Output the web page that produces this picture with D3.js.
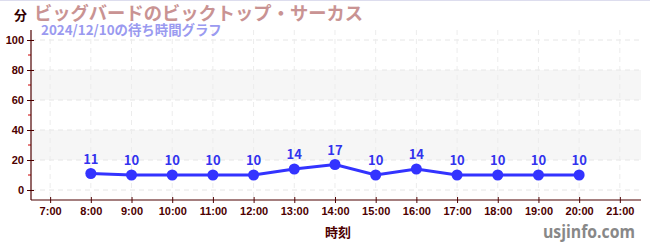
<!DOCTYPE html>
<html><head><meta charset="utf-8">
<script src="https://cdn.jsdelivr.net/npm/d3@7"></script>
<style>body{margin:0;background:#fff}svg{display:block;font-family:"Noto Sans CJK JP","Noto Sans",sans-serif}</style>
</head><body><svg id="c" width="650" height="250"></svg>
<script>
const hours = [8,9,10,11,12,13,14,15,16,17,18,19,20];
const waits = [11,10,10,10,10,14,17,10,14,10,10,10,10];
const xTickHours = [7,8,9,10,11,12,13,14,15,16,17,18,19,20,21];
const yTicks = [0,20,40,60,80,100];
const yMinor = [10,30,50,70,90];
const bands = [[60,80],[20,40]];
const title = "ビッグバードのビックトップ・サーカス";
const subtitle = "2024/12/10の待ち時間グラフ";
const yUnit = "分";
const xLabel = "時刻";
const credit = "usjinfo.com";

const svg = d3.select("#c");
const L=31,R=641,T=30,B=200;
const x = d3.scaleLinear().domain([6.53,21.52]).range([L,R]);
const y = d3.scaleLinear().domain([0,100]).range([190,40]);
const axisCol="#4d0000";

svg.append("line").attr("x1",0).attr("x2",650).attr("y1",0.5).attr("y2",0.5).attr("stroke","#dde").attr("stroke-width",1);

bands.forEach(b=>svg.append("rect").attr("x",L).attr("width",R-L).attr("y",y(b[1])).attr("height",y(b[0])-y(b[1])).attr("fill","#f6f6f6"));

// grid
svg.append("g").selectAll("line").data(yTicks).join("line")
  .attr("x1",L).attr("x2",R).attr("y1",d=>y(d)).attr("y2",d=>y(d))
  .attr("stroke","#e6e6e6").attr("stroke-dasharray","5,4");
svg.append("g").selectAll("line").data(xTickHours).join("line")
  .attr("x1",d=>x(d)).attr("x2",d=>x(d)).attr("y1",T).attr("y2",B)
  .attr("stroke","#ececec").attr("stroke-dasharray","5,4");

// axes
const yAxis = svg.append("g").attr("transform",`translate(${L},0)`)
  .call(d3.axisLeft(y).tickValues(yTicks).tickSize(4).tickPadding(3));
yAxis.select(".domain").remove();
yAxis.selectAll(".tick line").attr("x2",-4).attr("x1",3).attr("stroke",axisCol);
yAxis.selectAll("text").attr("fill",axisCol).style("font-size","11px").style("font-weight","bold");
svg.append("g").selectAll("line").data(yMinor).join("line")
  .attr("x1",L-3).attr("x2",L).attr("y1",d=>y(d)).attr("y2",d=>y(d)).attr("stroke","#cc0000");
svg.append("line").attr("x1",L).attr("x2",L).attr("y1",T).attr("y2",B).attr("stroke",axisCol).attr("stroke-width",1.2);

const xAxis = svg.append("g").attr("transform",`translate(0,${B})`)
  .call(d3.axisBottom(x).tickValues(xTickHours).tickFormat(d=>d+":00").tickSize(3).tickPadding(4));
xAxis.select(".domain").remove();
xAxis.selectAll(".tick line").attr("y1",-3).attr("y2",3).attr("stroke",axisCol);
xAxis.selectAll("text").attr("fill",axisCol).style("font-size","11px").style("font-weight","bold");
svg.append("line").attr("x1",L).attr("x2",R).attr("y1",B).attr("y2",B).attr("stroke",axisCol).attr("stroke-width",1.2);

// series
const pts = hours.map((h,i)=>({h,v:waits[i]}));
svg.append("path").datum(pts).attr("fill","none").attr("stroke","#3333ff").attr("stroke-width",3)
  .attr("d",d3.line().x(d=>x(d.h)).y(d=>y(d.v)));
svg.append("g").selectAll("circle").data(pts).join("circle")
  .attr("cx",d=>x(d.h)).attr("cy",d=>y(d.v)).attr("r",5.5).attr("fill","#3333ff");
svg.append("g").selectAll("text").data(pts).join("text")
  .attr("x",d=>x(d.h)).attr("y",d=>y(d.v)-10).attr("text-anchor","middle")
  .attr("fill","#3333ee").style("font-size","13px").style("font-weight","bold").text(d=>d.v);

// texts
svg.append("text").attr("x",14).attr("y",20).attr("fill","#330000").style("font-size","13px").style("font-weight","bold").text(yUnit);
svg.append("text").attr("x",34).attr("y",20).attr("fill","#c99393").style("font-size","18.3px").style("font-weight","bold").text(title);
svg.append("text").attr("x",41).attr("y",35).attr("fill","#9a9af0").style("font-size","13.4px").style("font-weight","bold").text(subtitle);
svg.append("text").attr("x",338).attr("y",237).attr("text-anchor","middle").attr("fill","#4d0000").style("font-size","13px").style("font-weight","bold").text(xLabel);
svg.append("text").attr("x",543).attr("y",238).attr("fill","#888").style("font-family","'Open Sans',sans-serif").style("font-size","18.5px").style("font-weight","bold")
  .attr("textLength",92).attr("lengthAdjust","spacingAndGlyphs").text(credit);
</script></body></html>
